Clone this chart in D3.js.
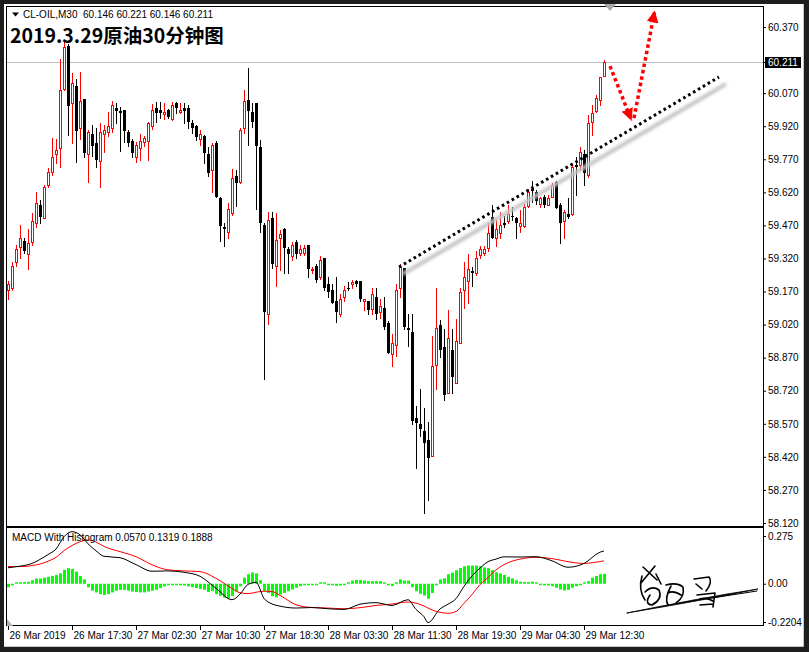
<!DOCTYPE html>
<html><head><meta charset="utf-8">
<script src="https://cdn.jsdelivr.net/npm/d3@7"></script>
<style>html,body{margin:0;padding:0;background:#000;}svg{display:block;}</style>
</head><body>
<svg id="c" width="809" height="652"></svg>
<script>
// ---------- DATA ----------
const open = [59.175,59.188,59.302,59.370,59.397,59.338,59.393,59.479,59.561,59.502,
59.652,59.711,59.793,59.820,60.088,60.284,60.024,60.102,59.911,60.043,
59.793,59.884,59.842,59.761,59.884,59.893,59.911,60.002,59.988,59.993,
59.893,59.852,59.779,59.820,59.847,59.852,59.920,60.002,59.993,59.975,
59.993,59.952,60.024,59.984,60.002,60.002,59.933,59.920,59.861,59.875,
59.793,59.720,59.842,59.593,59.461,59.438,59.524,59.693,59.666,59.911,
60.038,59.984,60.024,59.824,59.470,59.070,59.502,59.284,59.411,59.452,
59.361,59.329,59.393,59.347,59.347,59.379,59.266,59.288,59.234,59.320,
59.202,59.179,59.129,59.070,59.143,59.188,59.202,59.220,59.220,59.129,
59.129,59.093,59.147,59.075,59.097,59.029,58.888,58.929,59.188,59.275,
59.006,58.988,58.597,58.570,58.538,58.497,58.425,58.838,59.020,58.920,
58.711,58.906,58.756,58.938,59.179,59.220,59.261,59.252,59.334,59.343,
59.366,59.506,59.411,59.434,59.479,59.488,59.511,59.502,59.466,59.466,
59.556,59.634,59.620,59.566,59.597,59.561,59.597,59.666,59.561,59.488,
59.520,59.520,59.743,59.743,59.793,59.697,59.938,59.988,60.038,60.146];
const high = [59.220,59.302,59.379,59.470,59.411,59.452,59.524,59.620,59.584,59.652,
59.729,59.866,59.861,60.224,60.302,60.293,60.161,60.134,60.166,60.043,
59.902,59.924,59.911,59.933,59.924,59.984,60.033,60.024,60.006,59.993,
59.902,59.861,59.847,59.884,59.875,59.938,60.020,60.029,60.029,60.024,
59.997,60.029,60.029,60.024,60.024,60.015,59.947,59.924,59.902,59.879,
59.824,59.842,59.852,59.597,59.479,59.570,59.725,59.720,59.911,60.084,
60.184,60.024,60.024,59.856,59.479,59.529,59.529,59.524,59.447,59.456,
59.370,59.393,59.402,59.379,59.379,59.379,59.280,59.297,59.329,59.320,
59.234,59.206,59.234,59.161,59.197,59.211,59.224,59.224,59.220,59.138,
59.129,59.184,59.188,59.138,59.143,59.038,58.979,59.202,59.297,59.275,
59.070,59.070,58.652,58.729,58.643,58.579,58.970,59.188,59.043,59.002,
59.088,59.002,59.047,59.184,59.302,59.338,59.280,59.356,59.375,59.375,
59.479,59.561,59.493,59.529,59.511,59.561,59.552,59.506,59.538,59.566,
59.634,59.670,59.629,59.597,59.606,59.606,59.661,59.670,59.570,59.538,
59.593,59.743,59.779,59.824,59.811,59.970,60.015,60.061,60.143,60.221];
const low = [59.138,59.175,59.284,59.324,59.343,59.270,59.379,59.461,59.479,59.502,
59.643,59.697,59.752,59.734,60.084,59.879,59.842,59.757,59.861,59.779,
59.666,59.784,59.734,59.643,59.802,59.875,59.893,59.933,59.806,59.847,
59.829,59.779,59.757,59.766,59.829,59.766,59.906,59.938,59.957,59.952,
59.957,59.947,59.979,59.979,59.933,59.911,59.888,59.856,59.833,59.752,
59.693,59.620,59.597,59.397,59.375,59.415,59.515,59.557,59.661,59.888,
59.833,59.915,59.543,59.438,58.775,59.024,59.275,59.197,59.266,59.252,
59.252,59.311,59.320,59.334,59.334,59.234,59.252,59.211,59.229,59.175,
59.147,59.116,59.034,59.061,59.125,59.175,59.188,59.197,59.129,59.088,
59.070,59.070,59.047,59.052,59.002,58.893,58.834,58.879,59.143,59.002,
58.925,58.570,58.370,58.516,58.165,58.225,58.425,58.729,58.875,58.679,
58.711,58.711,58.756,58.938,59.097,59.116,59.197,59.243,59.324,59.334,
59.356,59.415,59.375,59.415,59.461,59.479,59.493,59.415,59.438,59.461,
59.552,59.575,59.566,59.552,59.552,59.561,59.597,59.547,59.388,59.411,
59.502,59.515,59.606,59.720,59.652,59.688,59.879,59.984,60.015,60.146];
const close = [59.206,59.288,59.361,59.411,59.352,59.388,59.488,59.570,59.506,59.643,
59.711,59.779,59.811,60.084,60.279,60.011,60.115,59.897,60.033,59.797,
59.893,59.829,59.766,59.893,59.902,59.920,60.015,59.988,59.979,59.897,
59.842,59.797,59.833,59.852,59.866,59.933,59.993,59.979,59.979,59.984,
59.961,60.015,60.002,59.993,59.988,59.938,59.911,59.870,59.884,59.797,
59.706,59.833,59.597,59.466,59.452,59.543,59.684,59.661,59.902,60.033,
59.988,59.938,59.829,59.479,59.075,59.493,59.297,59.406,59.429,59.366,
59.338,59.379,59.338,59.361,59.366,59.270,59.270,59.224,59.311,59.184,
59.166,59.120,59.075,59.138,59.179,59.184,59.211,59.202,59.134,59.138,
59.084,59.161,59.070,59.106,59.011,58.893,58.938,59.179,59.280,59.011,
58.997,58.584,58.575,58.547,58.484,58.415,58.834,59.006,58.906,58.702,
58.961,58.784,58.947,59.170,59.238,59.270,59.252,59.324,59.361,59.361,
59.434,59.415,59.452,59.470,59.474,59.520,59.506,59.479,59.479,59.552,
59.620,59.625,59.579,59.593,59.561,59.593,59.652,59.547,59.479,59.529,
59.506,59.734,59.734,59.802,59.706,59.933,59.979,60.047,60.143,60.211];

const histogram = [-0.020,-0.005,0.005,0.008,0.010,0.012,0.020,0.030,0.030,0.035,
0.040,0.045,0.050,0.060,0.080,0.090,0.085,0.070,0.045,0.025,
-0.020,-0.040,-0.050,-0.060,-0.065,-0.060,-0.050,-0.040,-0.035,-0.035,
-0.040,-0.045,-0.048,-0.050,-0.050,-0.045,-0.040,-0.035,-0.025,-0.015,
-0.008,-0.005,-0.005,-0.008,-0.010,-0.015,-0.020,-0.025,-0.030,-0.035,
-0.048,-0.043,-0.060,-0.070,-0.080,-0.085,-0.070,-0.045,-0.015,0.035,
0.055,0.065,0.060,0.020,-0.043,-0.053,-0.072,-0.078,-0.062,-0.053,
-0.043,-0.033,-0.023,-0.014,-0.008,-0.004,-0.003,-0.003,0.004,0.001,
-0.006,-0.008,-0.012,-0.010,-0.004,0.006,0.018,0.022,0.022,0.018,
0.015,0.015,0.015,0.015,0.005,-0.008,-0.013,0.005,0.025,0.018,
0.018,-0.020,-0.043,-0.058,-0.068,-0.086,-0.053,-0.008,0.025,0.031,
0.055,0.064,0.078,0.090,0.101,0.105,0.105,0.105,0.101,0.094,
0.090,0.078,0.066,0.059,0.051,0.039,0.031,0.020,0.012,0.010,
0.010,0.012,0.006,-0.002,-0.004,-0.010,-0.014,-0.023,-0.033,-0.039,
-0.035,-0.023,-0.014,-0.004,0.002,0.015,0.035,0.045,0.055,0.057];

const lineBars = [0,2,4,6,8,10,12,14,16,18,20,22,24,28,32,36,40,44,48,52,56,58,60,62,64,66,68,72,76,80,84,88,92,96,100,102,104,105,108,110,112,114,116,118,120,122,124,128,132,136,140,144,148,149];
const macdValues = [0.092,0.098,0.105,0.117,0.140,0.168,0.200,0.271,0.300,0.282,0.230,0.190,0.158,0.150,0.110,0.072,0.074,0.066,0.043,-0.026,-0.092,-0.060,-0.004,0.008,-0.084,-0.116,-0.129,-0.140,-0.137,-0.144,-0.148,-0.118,-0.109,-0.125,-0.092,-0.148,-0.190,-0.224,-0.145,-0.118,-0.086,-0.015,0.045,0.090,0.127,0.142,0.155,0.154,0.156,0.132,0.095,0.117,0.182,0.1888];
const signalValues = [0.099,0.099,0.099,0.105,0.113,0.130,0.152,0.191,0.220,0.242,0.252,0.240,0.215,0.185,0.156,0.109,0.080,0.074,0.070,0.031,-0.027,-0.052,-0.057,-0.049,-0.043,-0.045,-0.067,-0.121,-0.137,-0.140,-0.144,-0.138,-0.125,-0.117,-0.105,-0.112,-0.128,-0.140,-0.165,-0.170,-0.160,-0.113,-0.062,-0.005,0.035,0.080,0.110,0.142,0.152,0.145,0.127,0.117,0.128,0.1319];

const priceTicks = [60.370,60.070,59.920,59.770,59.620,59.470,59.320,59.170,59.020,58.870,58.720,58.570,58.420,58.270,58.120];
const macdTicks = [0.275,0,-0.2204];
const macdTickLabels = ["0.275","0.00","-0.2204"];
const timeTickBars = [0,16,32,48,64,80,96,112,128,144];
const timeTickLabels = ["26 Mar 2019","26 Mar 17:30","27 Mar 02:30","27 Mar 10:30","27 Mar 18:30","28 Mar 03:30","28 Mar 11:30","28 Mar 19:30","29 Mar 04:30","29 Mar 12:30"];
const lastPrice = 60.211;
const headerText = "CL-OIL,M30  60.146 60.221 60.146 60.211";
const titleText = "2019.3.29原油30分钟图";
const macdLabel = "MACD With Histogram 0.0570 0.1319 0.1888";
const trendLine = [[97.75,59.281],[177.75,60.143]];
const arrowDown = [[150.5,60.193],[155.9,59.945]];
const arrowUp = [[156.5,59.957],[161.7,60.445]];

// ---------- SCALES ----------
const x = d3.scaleLinear().domain([0,149]).range([8,604]);
const y = d3.scaleLinear().domain([58.12,60.37]).range([523,27]);
const ym = d3.scaleLinear().domain([-0.2204,0.275]).range([622,536]);

const svg = d3.select('#c');
const FONT = '"Liberation Sans", Arial, sans-serif';
const defs = svg.append('defs');
defs.append('clipPath').attr('id','mainClip').append('rect').attr('x',7).attr('y',7).attr('width',756).attr('height',519);
defs.append('clipPath').attr('id','macdClip').append('rect').attr('x',7).attr('y',528).attr('width',756).attr('height',97);
defs.append('filter').attr('id','blur').attr('x','-10%').attr('y','-50%').attr('width','120%').attr('height','200%')
  .append('feGaussianBlur').attr('stdDeviation',1.6);
defs.append('marker').attr('id','redHead').attr('markerUnits','userSpaceOnUse')
  .attr('markerWidth',14).attr('markerHeight',13).attr('refX',12).attr('refY',6)
  .attr('orient','auto').append('path').attr('d','M0,0 L12,6 L0,12 Z').attr('fill','#ff0000');

// window background
svg.append('rect').attr('width',809).attr('height',652).attr('fill','#1e1e1e');
svg.append('rect').attr('x',4).attr('y',4).attr('width',799).attr('height',642).attr('fill','#ffffff');
svg.append('path').attr('d','M803.5,4V646.5H4').attr('stroke','#c8c8c8').attr('fill','none');

// ---------- MAIN CHART ----------
const main = svg.append('g').attr('clip-path','url(#mainClip)');
main.append('line').attr('x1',7).attr('x2',763)
  .attr('y1',Math.round(y(lastPrice))+0.5).attr('y2',Math.round(y(lastPrice))+0.5)
  .attr('stroke','#c0c0c0');

const bars = d3.range(open.length).map(i=>({i,o:open[i],h:high[i],l:low[i],c:close[i],up:close[i]>=open[i]}));
const cx = d=>Math.round(x(d.i));
main.append('g').selectAll('line').data(bars).join('line')
  .attr('x1',d=>cx(d)+0.5).attr('x2',d=>cx(d)+0.5)
  .attr('y1',d=>Math.round(y(d.h))).attr('y2',d=>Math.round(y(d.l))+1)
  .attr('stroke',d=>d.up?'#ff0000':'#000000');
main.append('g').selectAll('rect').data(bars).join('rect')
  .attr('x',d=>d.up?cx(d)-0.5:cx(d)-1)
  .attr('y',d=>d.up?Math.round(y(d.c))+0.5:Math.round(y(d.o)))
  .attr('width',d=>d.up?2:3)
  .attr('height',d=>{const h=Math.abs(Math.round(y(d.o))-Math.round(y(d.c)));return d.up?Math.max(h,0.01):Math.max(h,1);})
  .attr('fill',d=>d.up?'#ffffff':'#000000')
  .attr('stroke',d=>d.up?'#ff0000':'none');

// trend line (shadow + dots)
const trendPts = trendLine.map(p=>[x(p[0]),y(p[1])]);
main.append('line').attr('x1',trendPts[0][0]+4).attr('y1',trendPts[0][1]+7)
  .attr('x2',trendPts[1][0]+7).attr('y2',trendPts[1][1]+7)
  .attr('stroke','#c4c4c4').attr('stroke-width',4).attr('filter','url(#blur)');
main.append('line').attr('x1',trendPts[0][0]).attr('y1',trendPts[0][1])
  .attr('x2',trendPts[1][0]).attr('y2',trendPts[1][1])
  .attr('stroke','#000').attr('stroke-width',3).attr('stroke-dasharray','2.6,3.1');

// red arrows
[arrowDown,arrowUp].forEach(a=>{
  svg.append('line').attr('x1',x(a[0][0])).attr('y1',y(a[0][1]))
    .attr('x2',x(a[1][0])).attr('y2',y(a[1][1]))
    .attr('stroke','#ff0000').attr('stroke-width',3.5).attr('stroke-dasharray','3.5,3')
    .attr('marker-end','url(#redHead)');
});

// frames
svg.append('rect').attr('x',6.5).attr('y',6.5).attr('width',757).attr('height',520)
  .attr('fill','none').attr('stroke','#000');
svg.append('rect').attr('x',6.5).attr('y',527.5).attr('width',757).attr('height',98)
  .attr('fill','none').attr('stroke','#000');

// shift marker
svg.append('path').attr('d','M604,4 L616,4 L610,11 Z').attr('fill','#a8a8a8');

// price axis
const pAxis = svg.append('g').attr('transform','translate(763,0)')
  .call(d3.axisRight(y).tickValues(priceTicks).tickSize(3).tickPadding(2).tickFormat(d3.format('.3f')));
pAxis.select('.domain').remove();
pAxis.selectAll('text').attr('font-family',FONT).attr('font-size',10).attr('fill','#000');
pAxis.selectAll('line').attr('stroke','#000');

// last price label
const ly = Math.round(y(lastPrice));
svg.append('line').attr('x1',763).attr('x2',766).attr('y1',ly+0.5).attr('y2',ly+0.5).attr('stroke','#000');
svg.append('rect').attr('x',765).attr('y',ly-5).attr('width',36).attr('height',11).attr('fill','#000');
svg.append('text').attr('x',768).attr('y',ly+4).text(d3.format('.3f')(lastPrice))
  .attr('font-family',FONT).attr('font-size',10).attr('fill','#fff');

// header + title
svg.append('path').attr('d','M12,12.5 L19,12.5 L15.5,16.5 Z').attr('fill','#000');
svg.append('text').attr('x',23).attr('y',18).text(headerText).attr('xml:space','preserve')
  .style('white-space','pre').attr('font-family',FONT).attr('font-size',10).attr('fill','#000');
svg.append('text').attr('x',10).attr('y',43).text(titleText)
  .attr('font-family','"Noto Sans CJK SC", sans-serif').attr('font-weight','bold')
  .attr('font-size',19.5).attr('fill','#000');

// ---------- MACD ----------
const mg = svg.append('g').attr('clip-path','url(#macdClip)');
const z0 = ym(0);
mg.append('g').selectAll('rect').data(histogram.map((v,i)=>({i,v}))).join('rect')
  .attr('x',d=>Math.round(x(d.i))-1).attr('width',3)
  .attr('y',d=>{const h=Math.max(Math.abs(ym(d.v)-z0),1.5);return d.v>=0?z0-h:z0;})
  .attr('height',d=>Math.max(Math.abs(ym(d.v)-z0),1.5))
  .attr('fill','#00ff00');
const lineGen = vals => d3.line().x((d,k)=>x(lineBars[k])).y(d=>ym(d)).curve(d3.curveMonotoneX)(vals);
mg.append('path').attr('d',lineGen(signalValues)).attr('fill','none').attr('stroke','#ff0000').attr('stroke-width',1);
mg.append('path').attr('d',lineGen(macdValues)).attr('fill','none').attr('stroke','#000').attr('stroke-width',1);
svg.append('text').attr('x',12).attr('y',541).text(macdLabel)
  .attr('font-family',FONT).attr('font-size',10).attr('fill','#000');
svg.append('path').attr('d','M7,619 L13,626 L7,626 Z').attr('fill','#b0b0b0');

const mAxis = svg.append('g').attr('transform','translate(763,0)')
  .call(d3.axisRight(ym).tickValues(macdTicks).tickSize(3).tickPadding(2).tickFormat((d,i)=>macdTickLabels[i]));
mAxis.select('.domain').remove();
mAxis.selectAll('text').attr('font-family',FONT).attr('font-size',10).attr('fill','#000');
mAxis.selectAll('line').attr('stroke','#000');

// time axis
const tAxis = svg.append('g').attr('transform','translate(0,626)')
  .call(d3.axisBottom(x).tickValues(timeTickBars).tickSize(4).tickPadding(2).tickFormat((d,i)=>timeTickLabels[i]));
tAxis.select('.domain').remove();
tAxis.selectAll('text').attr('font-family',FONT).attr('font-size',10).attr('fill','#000')
  .attr('text-anchor','start').attr('x',1);
tAxis.selectAll('line').attr('stroke','#000');

// signature (handwritten decoration)
const sig = svg.append('g').attr('fill','none').attr('stroke','#000').attr('stroke-width',1.6)
  .attr('stroke-linecap','round').attr('stroke-linejoin','round');
sig.append('path').attr('d','M627,613 Q700,598 758,589 Q705,600 627,613 Z').attr('fill','#000').attr('stroke-width',0.8);
sig.append('path').attr('d','M712,598 L757,591').attr('stroke-width',1);
sig.append('path').attr('d','M643,567 L657,580 M655,566 L641,583 M642,576 Q638,590 645,600 M645,592 Q652,585 659,590 Q663,599 652,605 Q644,604 650,595 M656,574 L661,584');
sig.append('path').attr('d','M666,585 Q677,582 683,587 Q685,597 676,603 M668,593 Q673,590 681,595 M671,586 Q664,599 668,605');
sig.append('path').attr('d','M694,579 L709,577 Q713,582 706,591 M696,584 L702,589 M697,595 L715,593 L713,607 M700,599 Q707,597 713,601 M700,605 L713,604');
</script>
</body></html>
